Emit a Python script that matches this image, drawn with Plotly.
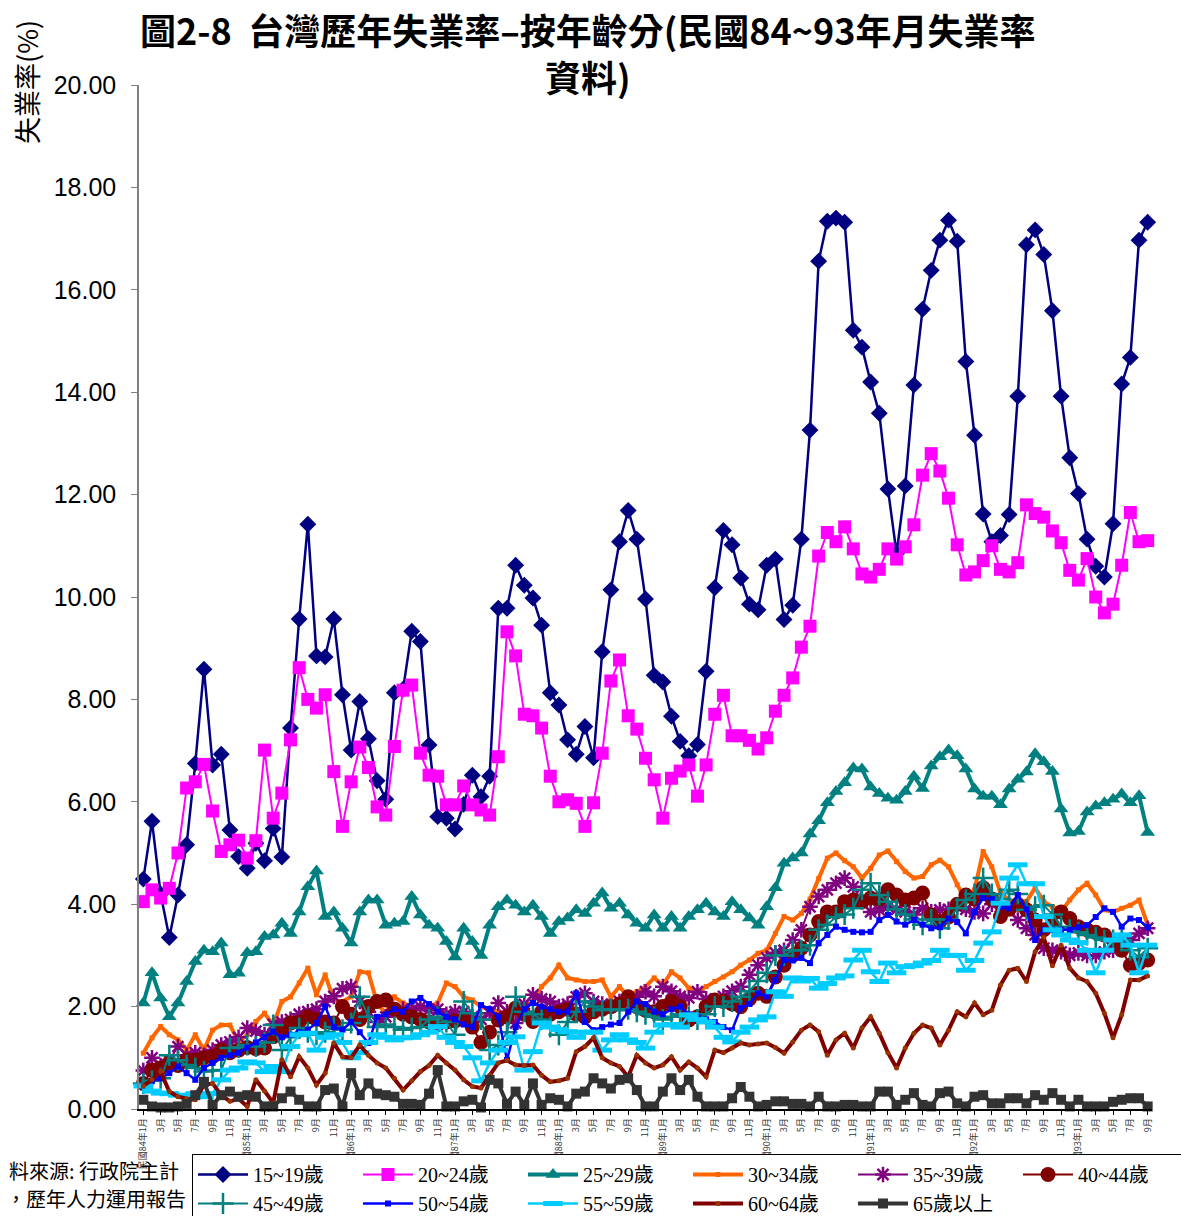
import plotly.graph_objects as go

# ---- categories: 民國84年1月 .. 民國93年9月 (monthly) ----
months = []
tick_vals = []
tick_text = []
for y in range(84, 94):
    for m in range(1, 13):
        if y == 93 and m > 9:
            break
        key = f"{y}年{m}月"
        months.append(key)
        if m % 2 == 1:
            tick_vals.append(key)
            tick_text.append(f"民國{y}年1月" if m == 1 else f"{m}月")

age_15_19 = [4.49, 5.62, 4.2, 3.35, 4.18, 5.16, 6.75, 8.59, 6.72, 6.93, 5.45, 4.93,
             4.70, 5.19, 4.85, 5.48, 4.92, 7.44, 9.57, 11.42, 8.85, 8.83, 9.57, 8.09,
             7.01, 7.96, 7.23, 6.41, 6.05, 8.13, 8.2, 9.33, 9.13, 7.11, 5.71, 5.68,
             5.47, 5.95, 6.52, 6.10, 6.50, 9.78, 9.78, 10.62, 10.23, 9.98, 9.45, 8.13,
             7.89, 7.21, 6.93, 7.47, 6.86, 8.93, 10.14, 11.08, 11.69, 11.13, 9.96, 8.47,
             8.34, 7.67, 7.18, 6.9, 7.12, 8.55, 10.18, 11.3, 11.02, 10.37, 9.86, 9.75,
             10.62, 10.74, 9.56, 9.84, 11.13, 13.26, 16.56, 17.34, 17.40, 17.32, 15.21, 14.88,
             14.2, 13.59, 12.11, 10.85, 12.17, 14.14, 15.62, 16.38, 16.97, 17.36, 16.95, 14.6,
             13.16, 11.62, 11.08, 11.2, 11.61, 13.92, 16.88, 17.17, 16.69, 15.59, 13.92, 12.72,
             12.02, 11.13, 10.6, 10.39, 11.43, 14.16, 14.68, 16.97, 17.32]
age_20_24 = [4.05, 4.28, 4.12, 4.31, 5.0, 6.27, 6.39, 6.73, 5.82, 5.03, 5.16, 5.25,
             4.9, 5.24, 7.01, 5.68, 6.17, 7.21, 8.62, 8.0, 7.83, 8.09, 6.59, 5.52,
             6.39, 7.07, 6.67, 5.9, 5.74, 7.08, 8.18, 8.28, 6.95, 6.52, 6.5, 5.94,
             5.94, 6.31, 5.94, 5.84, 5.74, 6.88, 9.32, 8.85, 7.71, 7.68, 7.44, 6.5,
             6.0, 6.04, 5.97, 5.52, 5.98, 6.95, 8.36, 8.77, 7.68, 7.42, 6.85, 6.43,
             5.68, 6.46, 6.6, 6.72, 6.11, 6.72, 7.71, 8.08, 7.29, 7.29, 7.2, 7.03,
             7.25, 7.77, 8.08, 8.42, 9.02, 9.43, 10.8, 11.26, 11.08, 11.37, 10.94, 10.45,
             10.39, 10.54, 10.94, 10.74, 10.98, 11.41, 12.38, 12.8, 12.46, 11.93, 11.02, 10.43,
             10.49, 10.71, 11.0, 10.54, 10.49, 10.67, 11.8, 11.63, 11.56, 11.29, 11.06, 10.52,
             10.33, 10.75, 10.0, 9.69, 9.86, 10.62, 11.65, 11.08, 11.1]
age_25_29 = [2.07, 2.66, 2.17, 1.8, 2.07, 2.49, 2.88, 3.1, 3.07, 3.24, 2.62, 2.65,
             3.05, 3.07, 3.37, 3.4, 3.63, 3.43, 3.85, 4.34, 4.65, 3.76, 3.85, 3.53,
             3.24, 3.85, 4.08, 4.08, 3.59, 3.63, 3.66, 4.15, 3.79, 3.59, 3.53, 3.27,
             2.97, 3.53, 3.27, 3.0, 3.59, 3.95, 4.08, 3.98, 3.85, 3.98, 3.76, 3.43,
             3.66, 3.73, 3.89, 3.82, 4.02, 4.22, 3.92, 4.02, 3.79, 3.63, 3.53, 3.79,
             3.53, 3.76, 3.53, 3.76, 3.89, 4.02, 3.85, 3.76, 4.05, 3.89, 3.73, 3.59,
             3.95, 4.32, 4.8, 4.9, 5.0, 5.37, 5.63, 5.98, 6.2, 6.37, 6.66, 6.64,
             6.29, 6.16, 6.07, 6.03, 6.2, 6.5, 6.26, 6.7, 6.88, 7.01, 6.9, 6.64,
             6.25, 6.11, 6.11, 5.94, 6.25, 6.44, 6.58, 6.94, 6.78, 6.59, 5.86, 5.39,
             5.42, 5.8, 5.92, 5.98, 6.05, 6.15, 5.98, 6.12, 5.4]
age_30_34 = [1.09, 1.39, 1.61, 1.45, 1.35, 1.15, 1.45, 1.15, 1.54, 1.64, 1.64, 1.31,
             1.45, 1.71, 1.87, 1.64, 2.1, 2.19, 2.46, 2.75, 2.23, 2.62, 2.13, 2.1,
             2.19, 2.68, 2.66, 2.07, 1.87, 2.19, 2.07, 2.0, 1.97, 2.0, 2.07, 2.46,
             2.39, 2.19, 2.13, 2.0, 1.95, 1.9, 1.85, 1.95, 2.0, 2.1, 2.39, 2.56,
             2.81, 2.56, 2.52, 2.49, 2.49, 2.52, 2.19, 2.39, 2.19, 2.29, 2.39, 2.56,
             2.42, 2.68, 2.56, 2.36, 2.29, 2.39, 2.49, 2.58, 2.68, 2.81, 2.91, 3.04,
             3.1, 3.43, 3.76, 3.69, 3.82, 4.1, 4.5, 4.9, 5.0, 4.85, 4.73, 4.51,
             4.7, 4.96, 5.04, 4.83, 4.64, 4.51, 4.54, 4.77, 4.86, 4.73, 4.38, 4.05,
             4.28, 5.03, 4.73, 4.22, 4.08, 4.05, 4.05, 4.32, 4.05, 3.95, 3.85, 4.08,
             4.28, 4.41, 4.18, 3.89, 3.85, 3.92, 3.98, 4.08, 3.6]
age_35_39 = [0.75, 1.0, 0.85, 0.95, 1.22, 1.05, 1.1, 1.05, 1.15, 1.25, 1.31, 1.4,
             1.58, 1.52, 1.45, 1.65, 1.7, 1.75, 1.85, 1.9, 1.95, 2.1, 2.2, 2.35,
             2.39, 2.1, 1.9, 1.7, 1.8, 1.93, 1.95, 1.93, 2.0, 1.93, 1.95, 1.85,
             1.9, 1.9, 1.8, 1.75, 1.87, 2.07, 1.9, 1.68, 2.05, 2.23, 2.15, 2.1,
             2.0, 2.05, 2.19, 2.26, 2.1, 2.05, 2.0, 2.1, 2.05, 2.19, 2.29, 2.2,
             2.39, 2.3, 2.2, 2.17, 2.29, 2.15, 2.1, 2.2, 2.3, 2.39, 2.62, 2.81,
             2.95, 3.05, 3.1, 3.3, 3.5, 3.95, 4.15, 4.28, 4.41, 4.51, 4.34, 4.05,
             3.85, 3.89, 3.95, 3.9, 3.85, 3.8, 3.92, 3.85, 3.89, 3.9, 3.95, 3.9,
             3.85, 3.82, 4.0, 3.95, 3.92, 3.69, 3.53, 3.4, 3.14, 3.1, 3.07, 3.0,
             3.05, 3.0, 3.0, 3.07, 3.1, 3.2, 3.3, 3.43, 3.53]
age_40_44 = [0.5, 0.76, 0.8, 0.9, 0.85, 0.96, 0.95, 1.0, 1.02, 1.15, 1.1, 1.15,
             1.2, 1.18, 1.19, 1.41, 1.5, 1.68, 1.7, 1.8, 1.75, 1.7, 1.68, 2.0,
             1.85, 1.75, 2.0, 2.1, 2.13, 1.95, 1.85, 1.8, 1.75, 1.7, 1.65, 1.7,
             1.72, 1.75, 1.6, 1.3, 1.5, 1.74, 1.8, 1.97, 1.85, 1.71, 1.9, 1.85,
             1.9, 1.95, 1.85, 1.8, 1.9, 1.95, 2.0, 2.05, 2.19, 2.0, 1.93, 1.9,
             2.0, 2.1, 2.0, 1.74, 1.8, 2.0, 2.13, 2.1, 2.05, 2.0, 2.15, 2.26,
             2.2, 2.58, 2.81, 3.0, 3.14, 3.4, 3.66, 3.85, 3.85, 4.05, 4.08, 4.05,
             4.12, 4.1, 4.28, 4.18, 4.08, 4.12, 4.22, 3.79, 3.66, 3.75, 4.0, 4.18,
             4.1, 4.32, 4.1, 3.76, 3.9, 4.0, 3.89, 3.69, 3.5, 3.6, 3.85, 3.72,
             3.56, 3.5, 3.45, 3.4, 3.3, 3.1, 2.81, 2.85, 2.91]
age_45_49 = [0.5, 0.55, 0.6, 1.05, 0.95, 0.86, 0.8, 0.73, 0.75, 0.76, 1.19, 1.2,
             1.25, 1.22, 1.3, 1.64, 1.15, 1.4, 1.58, 1.5, 1.45, 1.5, 1.6, 1.55,
             1.68, 2.19, 1.8, 1.6, 1.65, 1.6, 1.55, 1.58, 1.6, 1.75, 1.8, 1.7,
             1.45, 2.1, 1.87, 1.75, 1.15, 1.25, 1.5, 2.19, 1.9, 1.85, 1.75, 1.6,
             1.45, 1.7, 1.9, 2.1, 2.0, 1.93, 1.95, 1.93, 1.95, 1.9, 1.85, 1.8,
             1.75, 1.8, 1.85, 1.8, 1.75, 1.85, 2.0, 2.0, 2.1, 2.19, 2.3, 2.5,
             2.66, 3.0, 3.0, 3.1, 3.1, 3.2, 3.5, 3.6, 3.75, 3.8, 3.92, 4.28,
             4.41, 4.18, 4.05, 3.9, 3.8, 3.7, 3.6, 3.7, 3.53, 3.7, 3.92, 4.08,
             4.2, 4.51, 4.2, 4.1, 4.28, 4.2, 3.89, 3.95, 3.98, 3.8, 3.56, 3.5,
             3.45, 3.4, 3.35, 3.3, 3.3, 3.3, 3.1, 2.97, 3.14]
age_50_54 = [0.45, 0.55, 0.6, 0.7, 0.83, 0.7, 0.57, 0.8, 0.9, 1.0, 1.05, 1.1,
             1.2, 1.3, 1.4, 1.51, 1.4, 1.45, 1.5, 1.55, 1.68, 2.0, 1.6, 1.55,
             1.7, 1.5, 1.29, 1.8, 1.85, 1.95, 1.9, 2.1, 2.17, 2.05, 1.9, 1.8,
             1.75, 1.65, 1.6, 2.03, 1.95, 1.8, 0.96, 1.6, 1.95, 2.07, 2.0, 1.95,
             1.9, 1.9, 2.26, 1.7, 1.54, 1.6, 1.65, 1.68, 1.9, 2.1, 2.05, 1.9,
             1.85, 1.95, 2.0, 1.85, 1.8, 1.75, 1.7, 1.6, 1.54, 1.97, 2.05, 2.26,
             2.2, 2.52, 2.91, 2.9, 2.95, 2.85, 3.24, 3.4, 3.56, 3.5, 3.46, 3.45,
             3.46, 3.69, 3.79, 3.66, 3.6, 3.69, 3.6, 3.53, 3.55, 3.72, 3.65, 3.43,
             3.85, 4.12, 4.1, 3.95, 3.92, 4.18, 3.9, 3.3, 3.5, 3.5, 3.5, 3.5,
             3.55, 3.59, 3.75, 3.92, 3.85, 3.56, 3.72, 3.69, 3.55]
age_55_59 = [0.45, 0.35, 0.31, 0.3, 0.27, 0.25, 0.3, 0.24, 0.3, 0.57, 0.76, 0.8,
             0.92, 0.9, 0.73, 0.83, 0.73, 1.22, 1.45, 1.48, 1.15, 1.4, 1.45, 1.3,
             1.0, 1.1, 1.3, 1.45, 1.4, 1.35, 1.39, 1.4, 1.45, 1.5, 1.61, 1.4,
             1.3, 1.22, 1.0, 0.55, 0.9, 1.15, 1.3, 1.41, 0.76, 1.12, 1.68, 1.6,
             1.55, 1.51, 1.4, 1.5, 1.5, 1.15, 1.35, 1.45, 1.35, 1.3, 1.19, 1.5,
             1.64, 1.65, 1.6, 1.84, 1.75, 1.7, 1.6, 1.4, 1.31, 1.5, 1.6, 1.74,
             1.8, 2.29, 2.2, 2.56, 2.5, 2.55, 2.36, 2.45, 2.56, 2.6, 2.91, 3.1,
             2.68, 2.49, 2.85, 2.66, 2.78, 2.8, 2.85, 2.9, 3.1, 3.0, 3.0, 2.71,
             2.9, 3.24, 3.46, 4.02, 4.51, 4.77, 4.4, 4.4, 3.76, 3.5, 3.4, 3.3,
             3.25, 3.1, 2.66, 3.1, 3.3, 3.4, 3.2, 2.66, 3.2]
age_60_64 = [0.45, 0.57, 0.73, 0.34, 0.24, 0.2, 0.18, 0.47, 0.5, 0.27, 0.15, 0.2,
             0.05, 0.57, 0.35, 0.12, 0.96, 0.63, 1.02, 0.8, 0.47, 0.7, 1.29, 1.02,
             1.0, 1.25, 1.05, 0.9, 0.8, 0.6, 0.37, 0.55, 0.73, 0.85, 1.05, 0.9,
             0.76, 0.57, 0.44, 0.41, 0.66, 0.9, 0.95, 0.86, 0.85, 0.86, 0.66, 0.53,
             0.55, 0.6, 1.12, 1.22, 1.39, 1.0, 0.9, 0.83, 0.63, 1.05, 0.9, 0.8,
             0.86, 1.02, 0.76, 0.92, 0.8, 0.63, 1.15, 1.1, 1.19, 1.29, 1.25, 1.27,
             1.29, 1.2, 1.09, 1.31, 1.54, 1.64, 1.51, 1.05, 1.35, 1.48, 1.19, 1.58,
             1.8, 1.48, 1.1, 0.8, 1.19, 1.48, 1.64, 1.58, 1.25, 1.54, 1.9, 1.8,
             2.07, 1.84, 1.93, 2.42, 2.71, 2.75, 2.49, 3.07, 3.35, 2.8, 3.2, 2.75,
             2.56, 2.49, 2.26, 1.87, 1.39, 1.84, 2.52, 2.52, 2.6]
age_65_up = [0.18, 0.05, 0.03, 0.03, 0.05, 0.1, 0.27, 0.53, 0.08, 0.27, 0.34, 0.24,
             0.27, 0.24, 0.05, 0.05, 0.21, 0.34, 0.18, 0.05, 0.05, 0.37, 0.4, 0.05,
             0.7, 0.27, 0.5, 0.3, 0.27, 0.24, 0.1, 0.1, 0.08, 0.3, 0.76, 0.05,
             0.05, 0.15, 0.18, 0.03, 0.57, 0.5, 0.1, 0.34, 0.08, 0.5, 0.08, 0.21,
             0.18, 0.05, 0.3, 0.34, 0.6, 0.5, 0.4, 0.57, 0.6, 0.37, 0.05, 0.05,
             0.34, 0.6, 0.37, 0.57, 0.24, 0.05, 0.05, 0.05, 0.21, 0.43, 0.24, 0.05,
             0.08, 0.15, 0.15, 0.1, 0.1, 0.05, 0.24, 0.05, 0.05, 0.08, 0.08, 0.05,
             0.05, 0.34, 0.34, 0.08, 0.18, 0.31, 0.08, 0.05, 0.31, 0.34, 0.11, 0.05,
             0.24, 0.27, 0.11, 0.11, 0.21, 0.21, 0.11, 0.27, 0.18, 0.31, 0.18, 0.05,
             0.18, 0.05, 0.05, 0.05, 0.14, 0.18, 0.21, 0.21, 0.05]

y_ticks = [0, 2, 4, 6, 8, 10, 12, 14, 16, 18, 20]

series = [
    ("15~19歲", age_15_19, "#000080", 2.5, dict(symbol="diamond", size=13, color="#000080")),
    ("20~24歲", age_20_24, "#FF00FF", 2, dict(symbol="square", size=13, color="#FF00FF")),
    ("25~29歲", age_25_29, "#008080", 4, dict(symbol="triangle-up", size=13, color="#008080")),
    ("30~34歲", age_30_34, "#FF6600", 4, dict(symbol="square", size=5, color="#FF6600")),
    ("35~39歲", age_35_39, "#800080", 2, dict(symbol="asterisk-open", size=13, color="#800080",
                                              line=dict(color="#800080", width=2.5))),
    ("40~44歲", age_40_44, "#800000", 2, dict(symbol="circle", size=15, color="#800000")),
    ("45~49歲", age_45_49, "#008080", 2, dict(symbol="cross-thin-open", size=15, color="#008080",
                                              line=dict(color="#008080", width=2.5))),
    ("50~54歲", age_50_54, "#0000FF", 2.5, dict(symbol="square", size=6, color="#0000FF")),
    ("55~59歲", age_55_59, "#00CCFF", 2.5, dict(symbol="line-ew-open", size=14, color="#00CCFF",
                                               line=dict(color="#00CCFF", width=5))),
    ("60~64歲", age_60_64, "#800000", 4, dict(symbol="circle", size=5, color="#993300")),
    ("65歲以上", age_65_up, "#333333", 4, dict(symbol="square", size=10, color="#333333")),
]

fig = go.Figure()
for name, vals, col, lw, mk in series:
    fig.add_trace(go.Scatter(x=months, y=vals, name=name, mode="lines+markers",
                             line=dict(color=col, width=lw), marker=mk, cliponaxis=False))

W, H = 1181, 1216
L, R, T, B = 139, 29, 85, 107
pw, ph = W - L - R, H - T - B


def px_x(x):
    return (x - L) / pw


def px_y(y):
    return (T + ph - y) / ph


title_font = dict(family="Noto Sans CJK TC", size=36, color="black")

fig.update_layout(
    width=W, height=H,
    margin=dict(l=L, r=R, t=T, b=B, autoexpand=False),
    paper_bgcolor="white", plot_bgcolor="white",
    showlegend=True,
    legend=dict(orientation="h", x=px_x(192), xanchor="left",
                y=px_y(1154), yanchor="top",
                bordercolor="black", borderwidth=1, bgcolor="white",
                font=dict(family="Liberation Serif, Noto Sans CJK TC", size=20, color="black"),
                entrywidth=100, entrywidthmode="pixels", itemwidth=50, tracegroupgap=0),
    xaxis=dict(type="category", categoryorder="array", categoryarray=months,
               range=[-0.5, len(months) - 0.5],
               tickmode="array", tickvals=tick_vals, ticktext=tick_text, tickangle=-90,
               tickfont=dict(family="Noto Sans CJK TC", size=9, color="#333333"),
               showline=True, linecolor="black", linewidth=1.5, mirror=False,
               ticks="outside", ticklen=4, tickcolor="black", showgrid=False, zeroline=False),
    yaxis=dict(range=[0, 20], tickmode="array", tickvals=y_ticks,
               ticktext=[f"{v:.2f}" for v in y_ticks],
               tickfont=dict(family="Liberation Sans", size=25, color="black"),
               ticklabelstandoff=10,
               showline=True, linecolor="#808080", linewidth=1.5,
               ticks="outside", ticklen=6, tickcolor="#808080", showgrid=False, zeroline=False),
    annotations=[
        dict(text="<b>圖2-8  台灣歷年失業率–按年齡分(民國84~93年月失業率</b>",
             xref="paper", yref="paper", x=px_x(588), y=px_y(29),
             xanchor="center", yanchor="middle", showarrow=False, font=title_font),
        dict(text="<b>資料)</b>",
             xref="paper", yref="paper", x=px_x(588), y=px_y(76),
             xanchor="center", yanchor="middle", showarrow=False, font=title_font),
        dict(text="失業率(%)", textangle=-90, xref="paper", yref="paper",
             x=px_x(26), y=px_y(82), xanchor="center", yanchor="middle",
             showarrow=False, font=dict(family="Noto Sans CJK TC", size=27, color="black")),
        dict(text="料來源: 行政院主計", xref="paper", yref="paper",
             x=px_x(181), y=px_y(1170), xanchor="right", yanchor="middle",
             showarrow=False, font=dict(family="Noto Sans CJK TC", size=20, color="black")),
        dict(text="，歷年人力運用報告", xref="paper", yref="paper",
             x=px_x(188), y=px_y(1198), xanchor="right", yanchor="middle",
             showarrow=False, font=dict(family="Noto Sans CJK TC", size=20, color="black")),
    ],
)

fig.write_html("out.html", config={"displayModeBar": False},
               post_script="document.body.style.margin='0px';")
